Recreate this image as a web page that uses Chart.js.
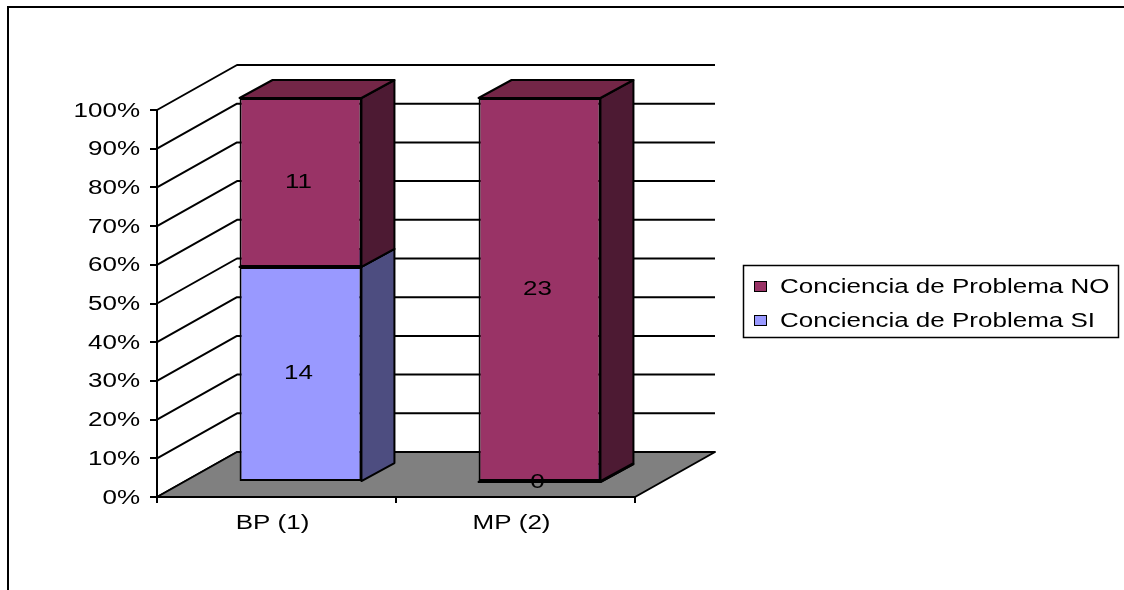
<!DOCTYPE html>
<html>
<head>
<meta charset="utf-8">
<script src="https://cdn.jsdelivr.net/npm/chart.js@4/dist/chart.umd.min.js"></script>
<style>
  body { margin: 0; background: #fff; }
  #wrap { width: 1124px; height: 590px; }
</style>
</head>
<body>
<div id="wrap"><canvas id="chart" width="1124" height="590"></canvas></div>
<script>
// Data
const categories = ['BP (1)', 'MP (2)'];
const seriesNames = ['Conciencia de Problema SI', 'Conciencia de Problema NO'];
const countsSI = [14, 0];
const countsNO = [11, 23];
const yTickLabels = ['0%', '10%', '20%', '30%', '40%', '50%', '60%', '70%', '80%', '90%', '100%'];

// 100% stacked: turn counts into shares
const totals = countsSI.map((v, i) => v + countsNO[i]);
const pctSI = countsSI.map((v, i) => v / totals[i] * 100);
const pctNO = countsNO.map((v, i) => v / totals[i] * 100);

const FONT = '20px "Liberation Sans", Arial, sans-serif';
const SX = 1.3; // the text in the picture is stretched sideways

// 3d offsets
const WALL = { dx: 80, dy: -45 };
const BOX = { dx: 33, dy: -18 };
const SHIFT = { dx: 24, a: 384 / 387 }; // bar front plane vs axis plane

const faceColors = [
  { front: '#9999FF', side: '#4D4D80', top: '#7373BF' },
  { front: '#993366', side: '#4D1A33', top: '#732647' }
];

function stretchText(ctx, s, x, y, align) {
  ctx.save();
  ctx.translate(x, y);
  ctx.scale(SX, 1);
  ctx.font = FONT;
  ctx.fillStyle = '#000';
  ctx.textAlign = align;
  ctx.textBaseline = 'middle';
  ctx.fillText(s, 0, 0);
  ctx.restore();
}

const threeD = {
  id: 'threeD',
  beforeDatasetsDraw(chart) {
    const ctx = chart.ctx;
    const area = chart.chartArea;
    const yScale = chart.scales.y;
    const b = area.bottom;
    const mapY = y => SHIFT.a * y + (b - 15 - SHIFT.a * b);

    ctx.save();
    ctx.strokeStyle = '#000';
    ctx.lineWidth = 2;
    ctx.lineJoin = 'round';

    // walls grid
    yTickLabels.forEach((t, k) => {
      const y = yScale.getPixelForValue(k * 10);
      ctx.beginPath();
      ctx.moveTo(area.left, y);
      ctx.lineTo(area.left + WALL.dx, y + WALL.dy);
      ctx.lineTo(area.right + WALL.dx, y + WALL.dy);
      ctx.stroke();
    });

    // floor
    ctx.beginPath();
    ctx.moveTo(area.left, b);
    ctx.lineTo(area.right, b);
    ctx.lineTo(area.right + WALL.dx, b + WALL.dy);
    ctx.lineTo(area.left + WALL.dx, b + WALL.dy);
    ctx.closePath();
    ctx.fillStyle = '#808080';
    ctx.fill();
    ctx.stroke();

    // side and top faces of the boxes
    chart.data.datasets.forEach((ds, di) => {
      const meta = chart.getDatasetMeta(di);
      meta.data.forEach(bar => {
        const x1 = bar.x + bar.width / 2 + SHIFT.dx;
        const x0 = bar.x - bar.width / 2 + SHIFT.dx;
        const yt = mapY(bar.y);
        const yb = mapY(bar.base);
        ctx.beginPath();
        ctx.moveTo(x1, yt);
        ctx.lineTo(x1 + BOX.dx, yt + BOX.dy);
        ctx.lineTo(x1 + BOX.dx, yb + BOX.dy);
        ctx.lineTo(x1, yb);
        ctx.closePath();
        ctx.fillStyle = faceColors[di].side;
        ctx.fill();
        ctx.stroke();
        ctx.beginPath();
        ctx.moveTo(x0, yt);
        ctx.lineTo(x1, yt);
        ctx.lineTo(x1 + BOX.dx, yt + BOX.dy);
        ctx.lineTo(x0 + BOX.dx, yt + BOX.dy);
        ctx.closePath();
        ctx.fillStyle = faceColors[di].top;
        ctx.fill();
        ctx.stroke();
      });
    });
    ctx.restore();

    // front faces are drawn by Chart.js in the shifted plane
    ctx.save();
    ctx.transform(1, 0, 0, SHIFT.a, SHIFT.dx, b - 15 - SHIFT.a * b);
  },
  afterDatasetsDraw(chart) {
    const ctx = chart.ctx;
    ctx.restore();
    const area = chart.chartArea;
    const b = area.bottom;
    const mapY = y => SHIFT.a * y + (b - 15 - SHIFT.a * b);

    // value labels
    chart.data.datasets.forEach((ds, di) => {
      const meta = chart.getDatasetMeta(di);
      const counts = di === 0 ? countsSI : countsNO;
      meta.data.forEach((bar, i) => {
        const y = mapY((bar.y + bar.base) / 2);
        stretchText(ctx, String(counts[i]), bar.x + SHIFT.dx - 2, y, 'center');
      });
    });

    // axis labels
    const yScale = chart.scales.y;
    yTickLabels.forEach((t, k) => {
      stretchText(ctx, t, area.left - 17, yScale.getPixelForValue(k * 10) + 1, 'right');
    });
    const xScale = chart.scales.x;
    categories.forEach((c, i) => {
      stretchText(ctx, c, xScale.getPixelForValue(i) - 4, b + 26, 'center');
    });

    // legend
    ctx.save();
    ctx.strokeStyle = '#000';
    ctx.lineWidth = 1.5;
    ctx.strokeRect(743.5, 265.5, 375, 72);
    ctx.lineWidth = 1;
    const order = [1, 0];
    order.forEach((di, row) => {
      const y = 287 + row * 34;
      ctx.fillStyle = faceColors[di].front;
      ctx.fillRect(754.5, y - 5.5, 12, 10);
      ctx.strokeRect(754.5, y - 5.5, 12, 10);
      stretchText(ctx, chart.data.datasets[di].label, 780, y, 'left');
    });

    // outer frame
    ctx.lineWidth = 2;
    ctx.beginPath();
    ctx.moveTo(8, 600);
    ctx.lineTo(8, 7);
    ctx.lineTo(1130, 7);
    ctx.stroke();
    ctx.restore();
  }
};

new Chart(document.getElementById('chart'), {
  type: 'bar',
  data: {
    labels: categories,
    datasets: [
      {
        label: seriesNames[0],
        data: pctSI,
        backgroundColor: faceColors[0].front,
        borderColor: '#000',
        borderWidth: 2,
        borderSkipped: false,
        clip: false
      },
      {
        label: seriesNames[1],
        data: pctNO,
        backgroundColor: faceColors[1].front,
        borderColor: '#000',
        borderWidth: 2,
        borderSkipped: false,
        clip: false
      }
    ]
  },
  options: {
    responsive: false,
    animation: false,
    events: [],
    layout: { padding: { left: 0, top: 110, right: 489, bottom: 0 } },
    plugins: {
      legend: { display: false },
      tooltip: { enabled: false }
    },
    datasets: { bar: { categoryPercentage: 1, barPercentage: 0.51 } },
    scales: {
      x: {
        stacked: true,
        grid: { drawOnChartArea: false, color: '#000', lineWidth: 2, tickLength: 6 },
        border: { color: '#000', width: 2 },
        ticks: { color: 'rgba(0,0,0,0)' },
        afterFit: s => { s.height = 93; }
      },
      y: {
        stacked: true,
        min: 0,
        max: 100,
        grid: { drawOnChartArea: false, color: '#000', lineWidth: 2, tickLength: 7 },
        border: { color: '#000', width: 2 },
        ticks: { stepSize: 10, color: 'rgba(0,0,0,0)' },
        afterFit: s => { s.width = 157; }
      }
    }
  },
  plugins: [threeD]
});
</script>
</body>
</html>
